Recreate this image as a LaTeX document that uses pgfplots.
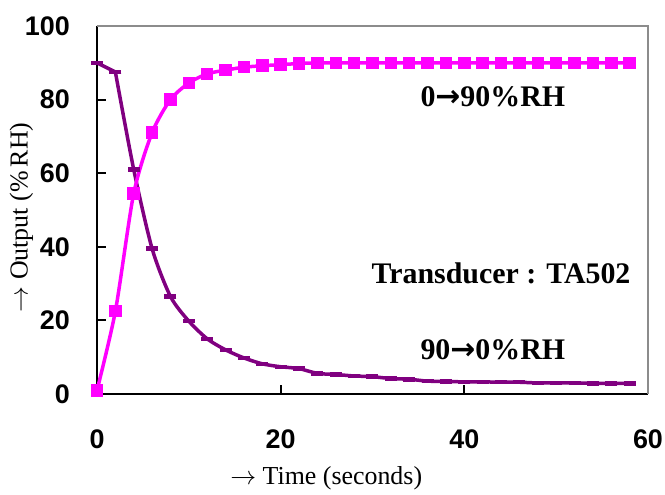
\RequirePackage{fix-cm}
\documentclass[border=0pt]{standalone}
\usepackage{fontspec}
\setmainfont{Liberation Serif}
\newfontfamily\tickfont{Liberation Sans}
\newfontfamily\arrowfont{DejaVu Sans}
\usepackage{pgfplots}
\pgfplotsset{compat=1.18}

\definecolor{pinkline}{RGB}{255,0,255}
\definecolor{purpleline}{RGB}{128,0,128}

\begin{document}
\begin{tikzpicture}
\begin{axis}[
    scale only axis,
    width=551bp, height=368bp,
    xmin=0, xmax=60, ymin=0, ymax=100,
    axis x line=bottom, axis y line=left,
    axis line style={line width=2.5bp, black, -},
    xtick={0,20,40,60}, ytick={0,20,40,60,80,100},
    tick align=inside,
    major tick length=9bp,
    tick style={line width=2bp, black},
    ticklabel style={font=\tickfont\bfseries\fontsize{27}{30}\selectfont, inner sep=0pt},
    yticklabel shift=27bp,
    xticklabel shift=36bp,
    /pgf/number format/assume math mode=true,
    xlabel={$\rightarrow$ Time (seconds)},
    ylabel={$\rightarrow$ Output (\%\,RH)},
    label style={font=\fontsize{26}{30}\selectfont},
    xlabel style={at={(axis description cs:0.416,-0.228)}, anchor=center},
    ylabel style={at={(axis description cs:-0.137,0.48)}, anchor=center},
    clip=false,
]
\draw[gray!90, line width=2bp] (rel axis cs:0,1) -- (rel axis cs:1,1) -- (rel axis cs:1,0);

% 90 -> 0 %RH: first step drawn straight, the rest smoothed
\addplot[purpleline, line width=3.5bp, mark=-, mark size=6bp,
    mark options={line width=4.5bp}] coordinates {
    (0,90) (2,87.5)
};
\addplot[purpleline, line width=3.5bp, smooth, tension=0.45, mark=-, mark size=6bp,
    mark options={line width=4.5bp}] coordinates {
    (2,87.5) (4,61) (6,39.5) (8,26.5) (10,19.8) (12,15) (14,12)
    (16,9.8) (18,8.2) (20,7.4) (22,6.9) (24,5.6) (26,5.3) (28,4.9) (30,4.7)
    (32,4.2) (34,4.0) (36,3.5) (38,3.4) (40,3.3) (42,3.3) (44,3.2) (46,3.2)
    (48,3.0) (50,3.0) (52,3.0) (54,2.9) (56,2.9) (58,2.9)
};
% 0 -> 90 %RH
\addplot[pinkline, line width=3.5bp, smooth, tension=0.45, mark=square*, mark size=4.5bp,
    mark options={solid}] coordinates {
    (0,1) (2,22.5) (4,54.5) (6,71) (8,80) (10,84.5) (12,87) (14,88)
    (16,88.8) (18,89.2) (20,89.5) (22,89.8) (24,90) (26,90) (28,90) (30,90)
    (32,90) (34,90) (36,90) (38,90) (40,90) (42,90) (44,90) (46,90)
    (48,90) (50,90) (52,90) (54,90) (56,90) (58,90)
};

\node[font=\bfseries\fontsize{30}{32}\selectfont, anchor=center] at (axis cs:43.1,80.7) {0{\arrowfont\bfseries →}90\%RH};
\node[font=\bfseries\fontsize{30}{32}\selectfont, anchor=center] at (axis cs:43.1,12) {90{\arrowfont\bfseries →}0\%RH};
\node[font=\bfseries\fontsize{30}{32}\selectfont, anchor=center] at (axis cs:44,32.9) {Transducer : TA502};
\end{axis}
\useasboundingbox (-97bp,-101bp) rectangle (568bp,394bp);
\end{tikzpicture}
\end{document}
